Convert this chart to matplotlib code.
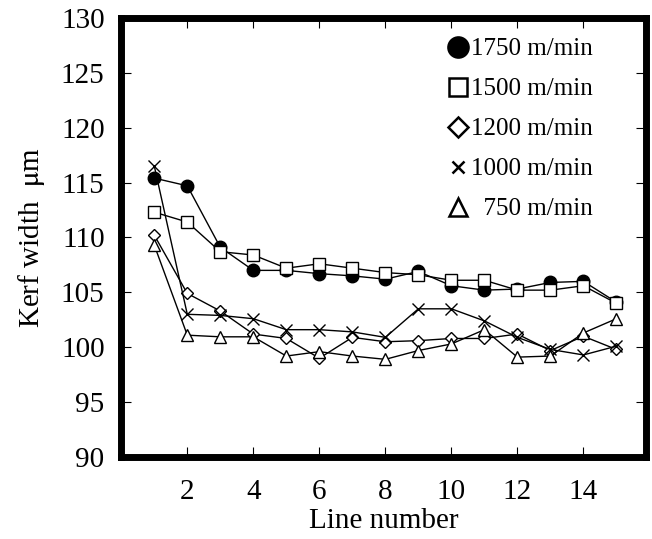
import matplotlib
matplotlib.use('Agg')
import matplotlib.pyplot as plt

plt.rcParams['font.family'] = ['Liberation Serif', 'DejaVu Serif']
plt.rcParams['mathtext.fontset'] = 'stix'

# numero da linha
linha = [1, 2, 3, 4, 5, 6, 7, 8, 9, 10, 11, 12, 13, 14, 15]

# largura do kerf (um) para cada velocidade
v1750 = [115.4, 114.7, 109.1, 107.0, 107.0, 106.7, 106.5, 106.2, 106.9, 105.6, 105.2, 105.3, 105.9, 106.0, 104.1]
v1500 = [112.3, 111.4, 108.7, 108.4, 107.2, 107.6, 107.2, 106.8, 106.6, 106.1, 106.1, 105.2, 105.2, 105.6, 104.0]
v1200 = [110.2, 104.9, 103.3, 101.2, 100.8, 99.0, 100.9, 100.5, 100.6, 100.8, 100.8, 101.2, 99.7, 101.0, 99.8]
v1000 = [116.5, 103.0, 102.9, 102.6, 101.6, 101.6, 101.4, 100.9, 103.5, 103.5, 102.4, 100.9, 99.8, 99.3, 100.1]
v750 = [109.3, 101.1, 100.95, 100.95, 99.2, 99.6, 99.2, 98.9, 99.7, 100.3, 101.6, 99.1, 99.2, 101.3, 102.6]

fig = plt.figure(figsize=(6.52, 5.39), dpi=100)
ax = fig.add_axes([0.186, 0.152, 0.805, 0.815])

ax.plot(linha, v1750, color='black', lw=1, marker='o', ms=9, mfc='black', mec='black', label='1750 m/min')
ax.plot(linha, v1500, color='black', lw=1, marker='s', ms=8, mfc='white', mec='black', mew=1, label='1500 m/min')
ax.plot(linha, v1200, color='black', lw=1, marker='D', ms=6.5, mfc='white', mec='black', mew=1, label='1200 m/min')
ax.plot(linha, v1000, color='black', lw=1, marker='x', ms=8, mec='black', mew=1, label='1000 m/min')
ax.plot(linha, v750, color='black', lw=1, marker='^', ms=8, mfc='white', mec='black', mew=1, label='  750 m/min')

ax.set_xlim(0, 15.9)
ax.set_ylim(90, 130)
ax.set_xticks([2, 4, 6, 8, 10, 12, 14])
ax.set_yticks([90, 95, 100, 105, 110, 115, 120, 125, 130])

for s in ax.spines.values():
    s.set_linewidth(5)

ax.tick_params(axis='both', direction='in', length=7, width=0.8, top=True, right=True, labelsize=21)
ax.tick_params(axis='x', pad=16)
ax.tick_params(axis='y', pad=12)

ax.set_xlabel('Line number', fontsize=21, labelpad=2)
ax.set_ylabel('Kerf width  $\\mathrm{\\mu}$m', fontsize=21, labelpad=10)

leg = ax.legend(loc='upper right', frameon=False, fontsize=18,
                handlelength=0.8, handletextpad=0.15, labelspacing=0.7,
                borderaxespad=0, bbox_to_anchor=(0.918, 0.977))
tam = [14.5, 13, 10.5, 9, 13]
for l, m in zip(leg.get_lines(), tam):
    l.set_linestyle('none')
    l.set_markersize(m)
    l.set_markeredgewidth(1.8)

plt.savefig('out.png', dpi=100)
